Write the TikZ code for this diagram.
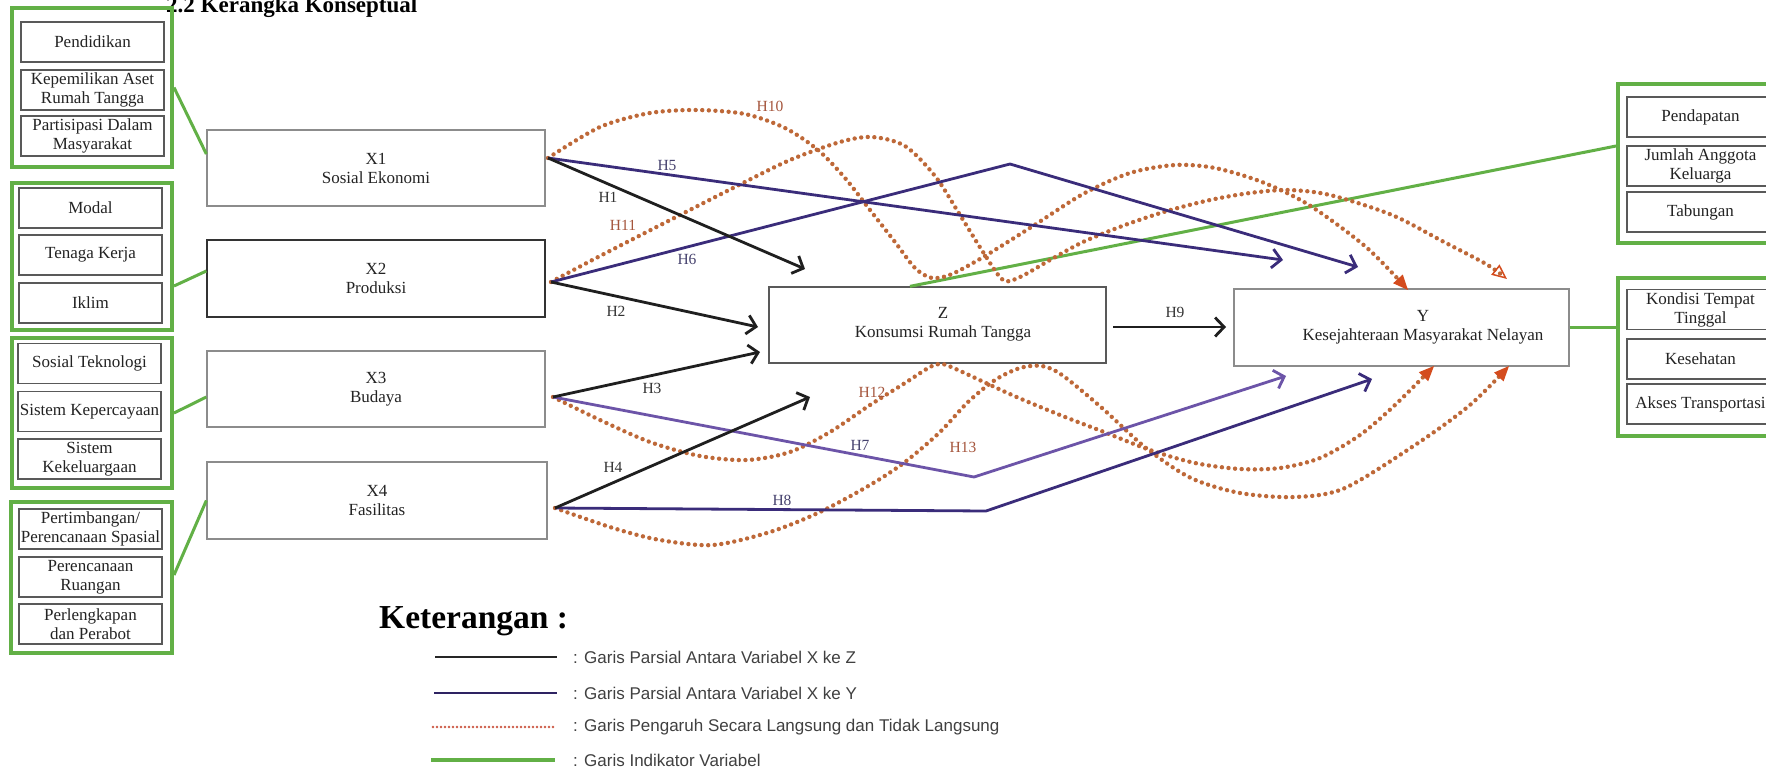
\documentclass[tikz,border=0pt]{standalone}
\usepackage{fontspec}
\setmainfont{Liberation Serif}
\setsansfont{Liberation Sans}
\usetikzlibrary{arrows.meta}
\definecolor{grn}{RGB}{98,176,70}
\definecolor{dotc}{RGB}{190,104,56}
\definecolor{tipc}{RGB}{212,76,30}
\definecolor{purp}{RGB}{58,44,122}
\definecolor{purpl}{RGB}{108,84,168}
\definecolor{hlab}{RGB}{165,85,60}
\definecolor{plab}{RGB}{70,66,110}
\definecolor{txtc}{RGB}{35,35,35}
\newcommand\boxfont{\fontsize{17}{19}\selectfont}
\newcommand\hfont{\fontsize{15.5}{17}\selectfont}
\tikzset{
  vbox/.style={draw=black!45, line width=1.3pt, minimum width=338pt, minimum height=76pt, inner sep=0pt, align=center, font=\boxfont, text=txtc},
  vtext/.style={align=center, font=\boxfont, text=txtc, inner sep=0pt},
  ibox/.style={draw=black!65, line width=1.2pt, minimum width=143pt, minimum height=40pt, inner sep=0pt, align=center, font=\boxfont, text=txtc},
  gframe/.style={draw=grn, line width=4pt, inner sep=0pt},
  gline/.style={draw=grn, line width=3pt},
  blkarrow/.style={draw=black!88, line width=2.8pt, -{Straight Barb[length=9pt,width=19pt]}},
  purarrow/.style={draw=purp, line width=2.8pt, -{Straight Barb[length=9pt,width=19pt]}},
  dotline/.style={draw=dotc, line width=4.4pt, line cap=round, dash pattern=on 0pt off 6.6pt, -{Triangle[length=15pt,width=13pt,color=tipc,line width=0pt]}},
  hblk/.style={font=\hfont, text=black!80, inner sep=1pt},
  hpur/.style={font=\hfont, text=plab, inner sep=1pt},
  hred/.style={font=\hfont, text=hlab, inner sep=1pt},
  legtext/.style={font=\sffamily\fontsize{17}{19}\selectfont, text=black!75, anchor=west, inner sep=0pt}
}
\begin{document}
\begin{tikzpicture}[x=1pt,y=-1pt]
\useasboundingbox (0,0) rectangle (1766,772);
\fill[white] (0,0) rectangle (1766,772);

% title
\node[anchor=base west, inner sep=0pt, font=\bfseries\fontsize{23}{26}\selectfont] (title) at (166,12) {2.2 Kerangka Konseptual};

% left indicator groups
\node[gframe, minimum width=160pt, minimum height=159pt] (g1) at (92,87.5) {};
\node[ibox] (i11) at (92.5,42) {Pendidikan};
\node[ibox] (i12) at (92.5,90) {Kepemilikan Aset\\Rumah Tangga};
\node[ibox] (i13) at (92.5,136) {Partisipasi Dalam\\Masyarakat};

\node[gframe, minimum width=160pt, minimum height=147pt] (g2) at (92,256.5) {};
\node[ibox] (i21) at (90.5,208) {Modal};
\node[ibox] (i22) at (90.5,255) {Tenaga Kerja};
\node[ibox] (i23) at (90.5,303) {Iklim};

\node[gframe, minimum width=160pt, minimum height=150pt] (g3) at (92,413) {};
\node[ibox] (i31) at (89.5,363.5) {Sosial Teknologi};
\node[ibox] (i32) at (89.5,411.5) {Sistem Kepercayaan};
\node[ibox] (i33) at (89.5,459) {Sistem\\Kekeluargaan};

\node[gframe, minimum width=161pt, minimum height=151pt] (g4) at (91.5,577.5) {};
\node[ibox] (i41) at (90.5,529) {Pertimbangan/\\Perencanaan Spasial};
\node[ibox] (i42) at (90.5,577) {Perencanaan\\Ruangan};
\node[ibox] (i43) at (90.5,624) {Perlengkapan\\dan Perabot};

% right indicator groups
\node[gframe, minimum width=164pt, minimum height=159pt] (r1) at (1700,163.5) {};
\node[ibox, minimum width=147pt] (j11) at (1700.5,117) {Pendapatan};
\node[ibox, minimum width=147pt] (j12) at (1700.5,166) {Jumlah Anggota\\Keluarga};
\node[ibox, minimum width=147pt] (j13) at (1700.5,212) {Tabungan};

\node[gframe, minimum width=164pt, minimum height=158pt] (r2) at (1700,357) {};
\node[ibox, minimum width=147pt] (j21) at (1700.5,309.5) {Kondisi Tempat\\Tinggal};
\node[ibox, minimum width=147pt] (j22) at (1700.5,359) {Kesehatan};
\node[ibox, minimum width=147pt] (j23) at (1700.5,404) {Akses Transportasi};

% variable boxes
\node[vbox] (x1) at (376,168) {X1\\Sosial Ekonomi};
\node[vbox, draw=black!80, minimum height=77pt] (x2) at (376,278.5) {X2\\Produksi};
\node[vbox] (x3) at (376,389) {X3\\Budaya};
\node[vbox, minimum width=340pt, minimum height=77pt] (x4) at (377,500.5) {X4\\Fasilitas};
\node[vbox, draw=black!65, minimum width=337pt] (z) at (937.5,325) {};
\node[vtext] (ztext) at (943,324) {Z\\Konsumsi Rumah Tangga};
\node[vbox, minimum width=335pt, minimum height=77pt] (y) at (1401.5,327.5) {};
\node[vtext] (ytext) at (1423,327) {Y\\Kesejahteraan Masyarakat Nelayan};

% green indicator connectors
\draw[gline] (g1.east) -- ([yshift=14pt]x1.west);
\draw[gline] ([yshift=-29.5pt]g2.east) -- ([yshift=7.5pt]x2.west);
\draw[gline] (g3.east) -- ([yshift=-8pt]x3.west);
\draw[gline] ([yshift=2.5pt]g4.east) -- (x4.west);
\draw[gline] ([xshift=-27.5pt]z.north) -- ([yshift=17.5pt]r1.west);
\draw[gline] (y.east) -- (r2.west |- y.east);

% start and end points
\coordinate (s1) at (548,158);
\coordinate (s2) at (551,282);
\coordinate (s3) at (553,397);
\coordinate (s4) at (555,508);
\coordinate (e1) at (805,269);
\coordinate (e2) at (758,327);
\coordinate (e3) at (760,352);
\coordinate (e4) at (810,397);
\coordinate (e5) at (1283,260);
\coordinate (v6) at (1010,164);
\coordinate (e6) at (1358,267);
\coordinate (v7) at (974,477);
\coordinate (e7) at (1286,376);
\coordinate (v8) at (986,511);
\coordinate (e8) at (1372,379);
\coordinate (e9a) at (1113,327);
\coordinate (e9b) at (1226,327);

% dotted indirect paths
\draw[dotline] plot[smooth, tension=0.5] coordinates {(s1) (600,127) (650,113) (697,110) (745,114) (785,128) (818,150) (845,178) (870,210) (895,242) (915,268) (932,278) (952,274) (985,256) (1033,226) (1083,194) (1130,173) (1175,165) (1215,168) (1262,182) (1309,205) (1366,247) (1408,290)};
\draw[dotline, -{Triangle[open,length=15pt,width=13pt,color=tipc,line width=1.5pt]}] plot[smooth, tension=0.5] coordinates {(s2) (600,256) (680,215) (737,186) (790,160) (840,142) (872,137) (905,146) (935,176) (960,215) (983,252) (1003,280) (1020,277) (1050,260) (1083,242) (1125,225) (1167,211) (1210,200) (1250,193) (1288,190) (1330,195) (1392,215) (1444,242) (1486,264) (1507,279)};
\draw[dotline] plot[smooth, tension=0.5] coordinates {(s3) (600,420) (650,442) (700,456) (747,460) (790,452) (830,432) (870,405) (905,383) (930,367) (942,364) (958,370) (1012,395) (1060,415) (1104,432) (1150,450) (1195,463) (1240,469) (1280,468) (1320,458) (1360,435) (1395,405) (1434,366)};
\draw[dotline] plot[smooth, tension=0.5] coordinates {(s4) (613,528) (660,540) (713,545) (770,532) (820,512) (870,485) (905,462) (940,432) (968,402) (995,380) (1020,368) (1042,366) (1062,375) (1102,408) (1146,448) (1191,478) (1240,493) (1295,497) (1345,488) (1418,443) (1470,405) (1509,366)};

% partial X -> Y (purple)
\draw[purarrow] (s1) -- (e5);
\draw[purarrow] (s2) -- (v6) -- (e6);
\draw[purarrow, draw=purpl] (s3) -- (v7) -- (e7);
\draw[purarrow] (s4) -- (v8) -- (e8);

% partial X -> Z (black)
\draw[blkarrow] (s1) -- (e1);
\draw[blkarrow] (s2) -- (e2);
\draw[blkarrow] (s3) -- (e3);
\draw[blkarrow] (s4) -- (e4);
\draw[blkarrow] (e9a) -- (e9b);

% labels
\node[hblk] (h1) at (608,197) {H1};
\node[hblk] (h2) at (616,311) {H2};
\node[hblk] (h3) at (652,388) {H3};
\node[hblk] (h4) at (613,467) {H4};
\node[hpur] (h5) at (667,165) {H5};
\node[hpur] (h6) at (687,259) {H6};
\node[hpur] (h7) at (860,445) {H7};
\node[hpur] (h8) at (782,500) {H8};
\node[hblk] (h9) at (1175,312) {H9};
\node[hred] (h10) at (770,106) {H10};
\node[hred] (h11) at (623,225) {H11};
\node[hred] (h12) at (872,392) {H12};
\node[hred] (h13) at (963,447) {H13};

% legend
\node[anchor=base west, inner sep=0pt, font=\bfseries\fontsize{33.5}{37}\selectfont] (ket) at (379,628) {Keterangan :};
\coordinate (la1) at (435,657); \coordinate (lb1) at (557,657);
\coordinate (la2) at (434,693); \coordinate (lb2) at (557,693);
\coordinate (la3) at (433,727); \coordinate (lb3) at (555,727);
\coordinate (la4) at (431,760); \coordinate (lb4) at (555,760);
\draw[draw=black!85, line width=2.8pt] (la1) -- (lb1);
\draw[draw=purp!80!black, line width=2.8pt] (la2) -- (lb2);
\draw[draw={rgb,255:red,205;green,90;blue,70}, line width=2.6pt, line cap=round, dash pattern=on 0pt off 4pt] (la3) -- (lb3);
\draw[draw=grn, line width=3.2pt] (la4) -- (lb4);
\node[legtext] (lt1) at (573,657) {: Garis Parsial Antara Variabel X ke Z};
\node[legtext] (lt2) at (573,693) {: Garis Parsial Antara Variabel X ke Y};
\node[legtext] (lt3) at (573,727) {: Garis Pengaruh Secara Langsung dan Tidak Langsung};
\node[legtext] (lt4) at (573,760) {: Garis Indikator Variabel};
\end{tikzpicture}
\end{document}
